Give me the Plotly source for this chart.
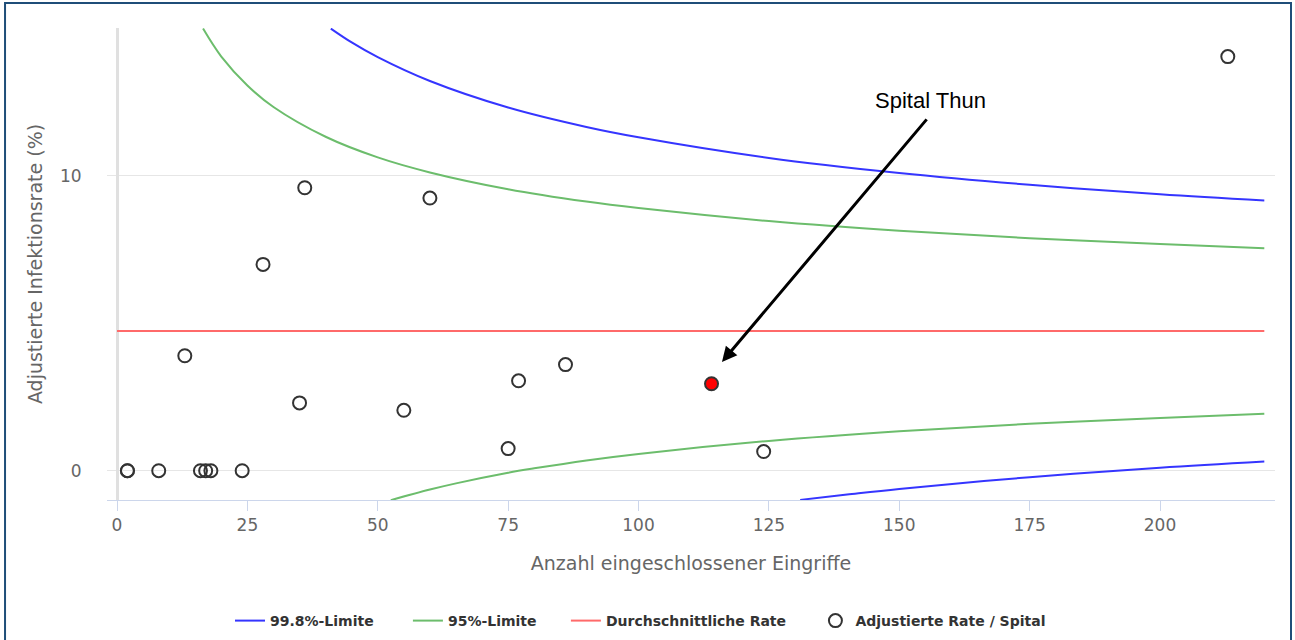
import plotly.graph_objects as go

# ---- data ----
hosp_n = [2, 2, 8, 16, 17, 18, 24, 13, 28, 35, 36, 55, 60, 75, 77, 86, 124, 213]
hosp_rate = [0, 0, 0, 0, 0, 0, 0, 3.9, 7.0, 2.3, 9.6, 2.05, 9.25, 0.75, 3.05, 3.6, 0.65, 14.05]

thun_n = [114]
thun_rate = [2.95]

avg_n = [0, 220]
avg_rate = [4.74, 4.74]

up95_n = [16.5, 20, 25, 30, 40, 50, 60, 75, 90, 100, 125, 150, 175, 200, 220]
up95 = [15.0, 14.05, 13.07, 12.34, 11.33, 10.63, 10.12, 9.55, 9.13, 8.91, 8.47, 8.14, 7.89, 7.69, 7.55]
lo95_n = [52.5, 60, 65, 75, 80, 90, 100, 125, 150, 175, 200, 220]
lo95 = [-1.0, -0.64, -0.43, -0.07, 0.08, 0.35, 0.57, 1.01, 1.34, 1.59, 1.79, 1.93]

up998_n = [41, 45, 50, 60, 75, 90, 100, 125, 150, 175, 200, 220]
up998 = [15.0, 14.53, 14.03, 13.22, 12.32, 11.66, 11.31, 10.61, 10.10, 9.70, 9.38, 9.17]
lo998_n = [131, 140, 150, 175, 200, 220]
lo998 = [-0.99, -0.81, -0.62, -0.22, 0.10, 0.31]

x_ticks = [0, 25, 50, 75, 100, 125, 150, 175, 200]
y_ticks = [0, 10]

series_names = ["99.8%-Limite", "95%-Limite", "Durchschnittliche Rate", "Adjustierte Rate / Spital"]

BLUE = "#3535ff"
GREEN = "#6cbd6c"
RED = "#ff6a6a"
FONT = "DejaVu Sans"
NB = "\u00a0"
pads = [6, 5, 5, 0]
legend_names = [n + NB * p for n, p in zip(series_names, pads)]

fig = go.Figure()

fig.add_trace(go.Scatter(
    x=up998_n + [None] + lo998_n, y=up998 + [None] + lo998,
    mode="lines", name=legend_names[0],
    line=dict(color=BLUE, width=2, shape="spline"), connectgaps=False))
fig.add_trace(go.Scatter(
    x=up95_n + [None] + lo95_n, y=up95 + [None] + lo95,
    mode="lines", name=legend_names[1],
    line=dict(color=GREEN, width=2, shape="spline"), connectgaps=False))
fig.add_trace(go.Scatter(
    x=avg_n, y=avg_rate, mode="lines", name=legend_names[2],
    line=dict(color=RED, width=2)))
fig.add_trace(go.Scatter(
    x=hosp_n, y=hosp_rate, mode="markers", name=legend_names[3],
    marker=dict(symbol="circle-open", size=13, color="#333333", line=dict(width=2, color="#333333"))))
fig.add_trace(go.Scatter(
    x=thun_n, y=thun_rate, mode="markers", showlegend=False, name="Spital Thun",
    marker=dict(symbol="circle", size=13, color="#ff0000", line=dict(width=2, color="#333333"))))

fig.update_layout(
    width=1295, height=640,
    margin=dict(l=107, r=20, t=28, b=140, autoexpand=False),
    paper_bgcolor="white", plot_bgcolor="white",
    font=dict(family=FONT, color="#666666"),
    showlegend=True,
    legend=dict(orientation="h", xref="container", yref="container",
                x=0.1776, xanchor="left", y=1 - 621 / 640, yanchor="middle",
                font=dict(family=FONT, size=14, color="#333333", weight="bold"),
                traceorder="normal", itemwidth=30),
    xaxis=dict(range=[-1.92, 222.05], tickvals=x_ticks, showgrid=False,
               zeroline=True, zerolinecolor="#e0e0e0", zerolinewidth=3,
               showline=True, linecolor="#ccd6eb", linewidth=1,
               ticks="outside", ticklen=10, tickcolor="#ccd6eb",
               tickfont=dict(family=FONT, size=17, color="#666666"),
               title=dict(text="Anzahl eingeschlossener Eingriffe",
                          font=dict(family=FONT, size=19, color="#666666"), standoff=22)),
    yaxis=dict(range=[-0.994, 15.02], tickvals=y_ticks, showgrid=True, gridcolor="#e6e6e6",
               gridwidth=1, zeroline=False, showline=False,
               ticks="outside", ticklen=21, tickcolor="rgba(0,0,0,0)",
               tickfont=dict(family=FONT, size=17, color="#666666"),
               title=dict(text="Adjustierte Infektionsrate (%)",
                          font=dict(family=FONT, size=19, color="#666666"), standoff=12)),
)

# arrow pointing at Spital Thun
fig.add_annotation(
    x=116.0, y=3.69, ax=155.5, ay=11.97, axref="x", ayref="y", xref="x", yref="y",
    text="", showarrow=True, arrowhead=2, arrowsize=1, arrowwidth=3,
    arrowcolor="black", standoff=0)
# label
fig.add_annotation(
    x=155.9, y=12.55, xref="x", yref="y", text="Spital Thun", showarrow=False,
    font=dict(family="Liberation Sans", size=22, color="black"))

fig.add_shape(type="rect", xref="paper", yref="paper",
              x0=-0.0873, x1=1.0137, y0=1.053, y1=-0.36,
              line=dict(color="#1f4e79", width=2), fillcolor="rgba(0,0,0,0)", layer="above")

fig.write_html("out.html", config={"displayModeBar": False},
               post_script="document.body.style.margin='0';document.body.style.padding='0';")
